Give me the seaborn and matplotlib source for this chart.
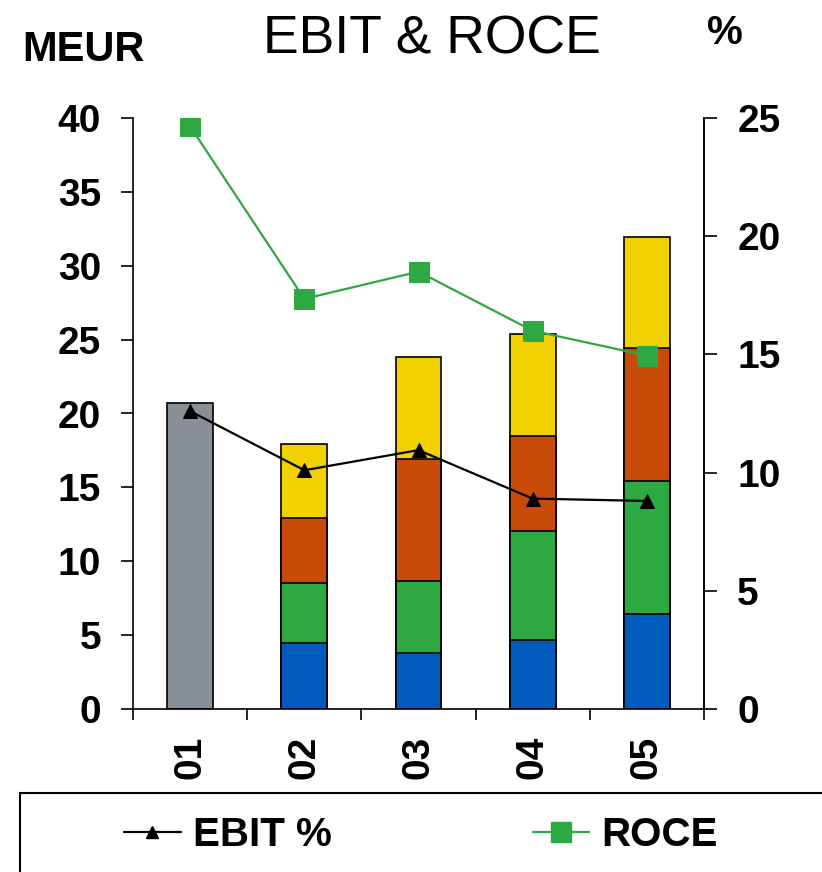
import numpy as np
import pandas as pd
import matplotlib
matplotlib.use("Agg")
import matplotlib.pyplot as plt
import seaborn as sns
from matplotlib.patches import Rectangle
from matplotlib.lines import Line2D

# ---- data ----------------------------------------------------------------
years = ["01", "02", "03", "04", "05"]
# EBIT (MEUR): 01 is reported as a single total, later years split into segments
ebit_total_01 = 20.7
seg_blue   = [4.5, 3.8, 4.7, 6.4]    # 02..05
seg_green  = [4.05, 4.85, 7.35, 9.0]
seg_orange = [4.4, 8.25, 6.45, 9.0]
seg_yellow = [5.0, 6.95, 6.9, 7.55]
# ratios (%)
ebit_pct = [12.6, 10.1, 10.95, 8.9, 8.8]
roce     = [24.65, 17.35, 18.5, 16.0, 14.95]

col_gray   = "#8a9098"
col_blue   = "#005bbd"
col_green  = "#2ea843"
col_orange = "#c84b0a"
col_yellow = "#f2d100"

sns.set_theme(style="white")
plt.rcParams["font.family"] = ["Liberation Sans", "DejaVu Sans"]
plt.rcParams.update({"text.color": "black", "xtick.color": "black",
                     "ytick.color": "black", "axes.labelcolor": "black"})

fig = plt.figure(figsize=(8.22, 8.72), dpi=100)
ax = fig.add_axes([133 / 822, 1 - 709 / 872, (704 - 133) / 822, (709 - 118) / 872])

# cumulative stack tops, drawn tallest first so each segment overlays the next
later = years[1:]
stack = np.cumsum(np.array([seg_blue, seg_green, seg_orange, seg_yellow]), axis=0)
layers = [(stack[3], col_yellow), (stack[2], col_orange),
          (stack[1], col_green), (stack[0], col_blue)]

sns.barplot(x=[years[0]], y=[ebit_total_01], order=years, color=col_gray,
            width=0.4, edgecolor="black", linewidth=1.2, saturation=1, ax=ax)
for tops, c in layers:
    sns.barplot(x=later, y=tops, order=years, color=c, width=0.4,
                edgecolor="black", linewidth=1.2, saturation=1, ax=ax)

ax.set_xlim(-0.5, len(years) - 0.5)
ax.set_ylim(0, 40)
ax.set_yticks(np.arange(0, 41, 5))
ax.set_xlabel("")
ax.set_ylabel("")
ax.set_xticks(np.arange(len(years)))
ax.set_xticklabels(years, rotation=90, fontsize=28, fontweight="bold")
ax.set_xticks(np.arange(len(years) + 1) - 0.5, minor=True)
ax.tick_params(axis="x", which="major", length=0, pad=19)
ax.tick_params(axis="x", which="minor", length=8, width=1.2, color="black",
               direction="out", bottom=True)
ax.tick_params(axis="y", length=9, width=1.2, color="black", direction="out",
               pad=14, left=True, labelsize=28)
for t in ax.get_yticklabels():
    t.set_fontweight("bold")
for s in ["left", "bottom", "right"]:
    ax.spines[s].set_color("black")
    ax.spines[s].set_linewidth(1.2)
ax.spines["top"].set_visible(False)

# ratio lines on the secondary axis
ax2 = ax.twinx()
xpos = np.arange(len(years))
sns.lineplot(x=xpos, y=ebit_pct, color="black", marker="^", markersize=10,
             markeredgecolor="black", linewidth=1.6, ax=ax2)
sns.lineplot(x=xpos, y=roce, color=col_green, marker="s", markersize=15,
             markeredgecolor=col_green, linewidth=1.6, ax=ax2)
ax2.set_ylim(0, 25)
ax2.set_yticks(np.arange(0, 26, 5))
ax2.tick_params(axis="y", length=9, width=1.2, color="black", direction="out",
                pad=15, right=True, labelsize=28)
for t in ax2.get_yticklabels():
    t.set_fontweight("bold")
for s in ["top", "left", "bottom"]:
    ax2.spines[s].set_visible(False)
ax2.spines["right"].set_color("black")
ax2.spines["right"].set_linewidth(1.2)
ax2.set_xlim(-0.5, len(years) - 0.5)

# headings
fig.text(432 / 822, 1 - 40 / 872, "EBIT & ROCE", ha="center", va="center",
         fontsize=38.5)
fig.text(22 / 822, 1 - 50 / 872, "MEUR", ha="left", va="center",
         fontsize=30, fontweight="bold")
fig.text(725 / 822, 1 - 33 / 872, "%", ha="center", va="center",
         fontsize=29, fontweight="bold")

# legend box along the bottom edge
fig.patches.append(Rectangle((20 / 822, -0.05), 1.0, 0.05 + (872 - 793) / 872,
                             transform=fig.transFigure, fill=False,
                             edgecolor="black", linewidth=1.5))
handles = [
    Line2D([], [], color="black", marker="^", markersize=8, linewidth=1.6),
    Line2D([], [], color=col_green, marker="s", markersize=15, linewidth=1.6),
]
fig.legend(handles, ["EBIT %", "ROCE"], loc="center",
           bbox_to_anchor=(421 / 822, 1 - 835 / 872), ncol=2, frameon=False,
           prop={"size": 29, "weight": "bold"}, handlelength=1.4,
           handletextpad=0.3, columnspacing=5.0)

fig.savefig("out.png", dpi=100)
